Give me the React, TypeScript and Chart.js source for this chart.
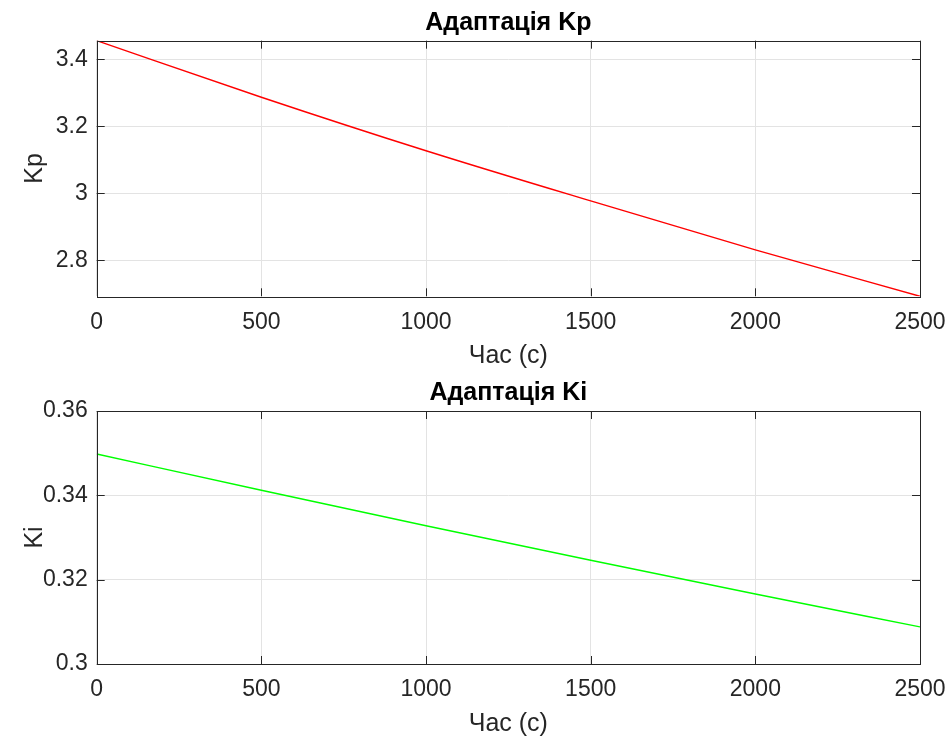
import React, { useEffect, useRef } from "react";
import { Chart, registerables } from "chart.js";

Chart.register(...registerables);

const timeSec = [0, 500, 1000, 1500, 2000, 2500];
const kpValues = [3.456, 3.287, 3.127, 2.977, 2.831, 2.692];
const kiValues = [0.3498, 0.3412, 0.3328, 0.3246, 0.3166, 0.3088];
const kpTicks = [2.8, 3, 3.2, 3.4];
const kiTicks = [0.3, 0.32, 0.34, 0.36];
const xTitle = "Час (с)";

const FONT = "'Liberation Sans', Arial, Helvetica, sans-serif";
const AXIS_COLOR = "#262626";

const boxPlugin = {
  id: "matlabBox",
  afterLayout(chart: any) {
    const tb = chart.titleBlock;
    if (tb) {
      tb.left = chart.chartArea.left;
      tb.right = chart.chartArea.right;
    }
  },
  afterDraw(chart: any) {
    const { ctx, chartArea: a, scales } = chart;
    ctx.save();
    ctx.strokeStyle = AXIS_COLOR;
    ctx.lineWidth = 1;
    const tl = 8;
    ctx.beginPath();
    scales.x.ticks.forEach((t: any) => {
      const px = Math.round(scales.x.getPixelForValue(t.value)) + 0.5;
      ctx.moveTo(px, a.bottom);
      ctx.lineTo(px, a.bottom - tl);
      ctx.moveTo(px, a.top);
      ctx.lineTo(px, a.top + tl);
    });
    scales.y.ticks.forEach((t: any) => {
      const py = Math.round(scales.y.getPixelForValue(t.value)) + 0.5;
      ctx.moveTo(a.left, py);
      ctx.lineTo(a.left + tl, py);
      ctx.moveTo(a.right, py);
      ctx.lineTo(a.right - tl, py);
    });
    ctx.stroke();
    ctx.strokeRect(
      Math.round(a.left) + 0.5,
      Math.round(a.top) + 0.5,
      Math.round(a.right - a.left),
      Math.round(a.bottom - a.top)
    );
    ctx.restore();
  },
};

type PanelProps = {
  title: string;
  yLabel: string;
  values: number[];
  color: string;
  yMin: number;
  yMax: number;
  yStep: number;
  yTicks: number[];
  height: number;
  plotTop: number;
  plotBottom: number;
  xTickPad: number;
  xTitlePad: number;
};

function Panel(p: PanelProps) {
  const ref = useRef<HTMLCanvasElement | null>(null);
  useEffect(() => {
    if (!ref.current) return;
    const titleSize = 25;
    const titleLH = 28;
    const titleTop = 9;
    const chart = new Chart(ref.current, {
      type: "line",
      data: {
        datasets: [
          {
            data: timeSec.map((t, i) => ({ x: t, y: p.values[i] })),
            borderColor: p.color,
            borderWidth: 1.4,
            pointRadius: 0,
            fill: false,
            cubicInterpolationMode: "monotone",
          },
        ],
      },
      options: {
        animation: false,
        responsive: false,
        maintainAspectRatio: false,
        layout: { padding: { left: 0, right: 31, top: 0, bottom: 0 } },
        plugins: {
          legend: { display: false },
          tooltip: { enabled: false },
          title: {
            display: true,
            text: p.title,
            color: "#000000",
            font: { family: FONT, size: titleSize, weight: "bold", lineHeight: titleLH / titleSize },
            padding: { top: titleTop, bottom: p.plotTop - titleTop - titleLH },
          },
        },
        scales: {
          x: {
            type: "linear",
            min: 0,
            max: 2500,
            ticks: {
              stepSize: 500,
              color: AXIS_COLOR,
              font: { family: FONT, size: 23 },
              padding: p.xTickPad,
              maxRotation: 0,
              includeBounds: false,
              callback: (v: any) => String(v),
            },
            grid: { color: "#e3e3e3", drawTicks: false, lineWidth: 1 },
            border: { display: false },
            title: {
              display: true,
              text: xTitle,
              color: AXIS_COLOR,
              font: { family: FONT, size: 25, lineHeight: 1 },
              padding: { top: 0, bottom: p.xTitlePad },
            },
            afterFit: (s: any) => {
              s.height = p.height - p.plotBottom;
              s.paddingLeft = 0;
              s.paddingRight = 0;
            },
          },
          y: {
            type: "linear",
            min: p.yMin,
            max: p.yMax,
            afterBuildTicks: (s: any) => {
              s.ticks = p.yTicks.map((v) => ({ value: v }));
            },
            ticks: {
              stepSize: p.yStep,
              color: AXIS_COLOR,
              font: { family: FONT, size: 23 },
              padding: 9,
              includeBounds: false,
              callback: (v: any) => String(parseFloat(Number(v).toFixed(3))),
            },
            grid: { color: "#e3e3e3", drawTicks: false, lineWidth: 1 },
            border: { display: false },
            title: {
              display: true,
              text: p.yLabel,
              color: AXIS_COLOR,
              font: { family: FONT, size: 25, lineHeight: 1 },
              padding: { top: 22.5, bottom: 0 },
            },
            afterFit: (s: any) => {
              s.width = 96.7;
              s.paddingTop = 0;
              s.paddingBottom = 0;
            },
          },
        },
      },
      plugins: [boxPlugin],
    } as any);
    return () => chart.destroy();
  }, []);
  return (
    <canvas
      ref={ref}
      width={951}
      height={p.height}
      style={{ display: "block", width: 951, height: p.height }}
    />
  );
}

export default function App() {
  return (
    <div style={{ position: "absolute", left: 0, top: 0, width: 951, height: 737, background: "#ffffff" }}>
      <div style={{ position: "absolute", left: 0, top: 0 }}>
        <Panel
          title="Адаптація Kp"
          yLabel="Kp"
          values={kpValues}
          color="#ff0000"
          yMin={2.692}
          yMax={3.456}
          yStep={0.2}
          yTicks={kpTicks}
          height={370}
          plotTop={40.7}
          plotBottom={296.3}
          xTickPad={12.5}
          xTitlePad={1}
        />
      </div>
      <div style={{ position: "absolute", left: 0, top: 370 }}>
        <Panel
          title="Адаптація Ki"
          yLabel="Ki"
          values={kiValues}
          color="#00ff00"
          yMin={0.3}
          yMax={0.36}
          yStep={0.02}
          yTicks={kiTicks}
          height={367}
          plotTop={41}
          plotBottom={294}
          xTickPad={11.7}
          xTitlePad={0}
        />
      </div>
    </div>
  );
}
